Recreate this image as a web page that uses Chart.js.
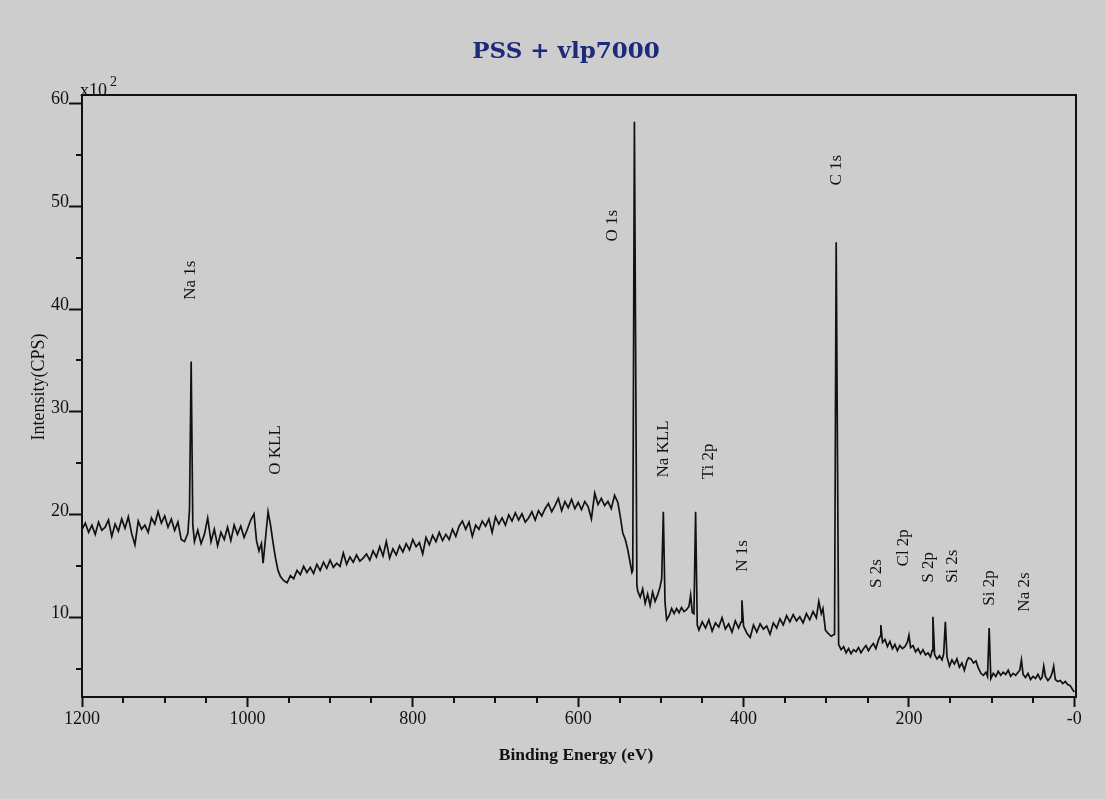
<!DOCTYPE html>
<html>
<head>
<meta charset="utf-8">
<script src="https://cdn.jsdelivr.net/npm/chart.js@4.4.1/dist/chart.umd.min.js"></script>
<style>
  html, body { margin: 0; padding: 0; background: #cdcdcd; }
  #wrap { width: 1105px; height: 799px; }
</style>
</head>
<body>
<div id="wrap"><canvas id="xps" width="1105" height="799"></canvas></div>
<script>
// survey spectrum, binding energy (eV) and intensity (x10^2 CPS)
var bindingEnergy = [
  1200, 1196, 1192, 1188, 1184, 1180, 1176, 1172, 1168, 1164, 1160, 1156, 1152, 1148, 1144, 1140,
  1136, 1132, 1128, 1124, 1120, 1116, 1112, 1108, 1104, 1100, 1096, 1092, 1088, 1084, 1080, 1076,
  1072, 1070, 1068, 1066, 1064, 1060, 1056, 1052, 1048, 1044, 1040, 1036, 1032, 1028, 1024, 1020,
  1016, 1012, 1008, 1004, 1000, 996, 992, 989, 986, 983, 981, 978, 975, 972, 969, 966,
  963, 960, 956, 952, 948, 944, 940, 936, 932, 928, 924, 920, 916, 912, 908, 904,
  900, 896, 892, 888, 884, 880, 876, 872, 868, 864, 860, 856, 852, 848, 844, 840,
  836, 832, 828, 824, 820, 816, 812, 808, 804, 800, 796, 792, 788, 784, 780, 776,
  772, 768, 764, 760, 756, 752, 748, 744, 740, 736, 732, 728, 724, 720, 716, 712,
  708, 704, 700, 696, 692, 688, 684, 680, 676, 672, 668, 664, 660, 656, 652, 648,
  644, 640, 636, 632, 628, 624, 620, 616, 612, 608, 604, 600, 596, 592, 588, 584,
  580, 576, 572, 568, 564, 560, 556, 552, 549, 546, 543, 540, 537, 535, 534, 532,
  529, 528, 525, 522, 519, 516, 513, 510, 507, 504, 501, 499, 497, 495, 493, 490,
  487, 484, 481, 478, 475, 472, 469, 466, 464, 462, 460, 458, 456, 454, 450, 446,
  442, 438, 434, 430, 426, 422, 418, 414, 410, 406, 403, 402, 400, 396, 392, 388,
  384, 380, 376, 372, 368, 364, 360, 356, 352, 348, 344, 340, 336, 332, 328, 324,
  320, 316, 312, 309, 306, 304, 301, 298, 294, 290, 288, 285, 282, 279, 276, 273,
  270, 267, 264, 261, 258, 255, 252, 249, 246, 243, 240, 237, 235, 234, 232, 229,
  226, 223, 220, 217, 214, 211, 208, 205, 202, 200, 198, 195, 192, 189, 186, 183,
  180, 177, 174, 172, 171, 169, 166, 163, 160, 158, 156, 154, 151, 148, 145, 142,
  139, 136, 133, 130, 128, 125, 122, 119, 116, 113, 110, 107, 105, 103, 101, 98,
  95, 92, 89, 86, 83, 80, 77, 74, 71, 68, 66, 64, 62, 59, 56, 53,
  50, 47, 44, 41, 39, 37, 35, 32, 29, 27, 25, 23, 20, 17, 14, 11,
  8, 5, 2, 0
];
var intensity = [
  18.6, 19.2, 18.3, 19.0, 18.1, 19.3, 18.5, 18.8, 19.5, 17.9, 19.1, 18.4, 19.6, 18.7, 19.8, 18.2,
  17.1, 19.4, 18.6, 19.0, 18.3, 19.7, 19.1, 20.3, 19.2, 19.9, 18.8, 19.6, 18.5, 19.3, 17.6, 17.4,
  18.2, 20.5, 34.9, 19.0, 17.4, 18.5, 17.2, 18.1, 19.7, 17.4, 18.6, 17.0, 18.3, 17.6, 18.8, 17.5,
  19.0, 18.1, 18.9, 17.8, 18.6, 19.5, 20.1, 17.5, 16.5, 17.2, 15.3, 17.8, 20.3, 19.0, 17.3, 15.8,
  14.6, 14.0, 13.6, 13.4, 14.1, 13.8, 14.6, 14.2, 15.0, 14.4, 14.9, 14.3, 15.2, 14.6, 15.4, 14.8,
  15.6, 14.9, 15.3, 15.0, 16.3, 15.2, 15.9, 15.4, 16.1, 15.5, 15.8, 16.2, 15.6, 16.5, 15.9, 16.9,
  16.0, 17.4, 15.8, 16.7, 16.1, 17.0, 16.4, 17.2, 16.6, 17.6, 16.9, 17.3, 16.2, 17.8, 17.1, 18.0,
  17.4, 18.3, 17.5, 18.1, 17.6, 18.6, 17.9, 18.9, 19.4, 18.6, 19.3, 17.9, 19.0, 18.6, 19.4, 18.9,
  19.6, 18.3, 19.8, 19.1, 19.7, 19.0, 20.0, 19.4, 20.2, 19.5, 20.1, 19.3, 19.7, 20.3, 19.5, 20.4,
  19.9, 20.6, 21.1, 20.3, 20.9, 21.6, 20.4, 21.3, 20.7, 21.5, 20.6, 21.2, 20.5, 21.3, 20.8, 19.6,
  22.1, 21.0, 21.6, 20.9, 21.3, 20.6, 21.9, 21.2, 19.8, 18.2, 17.6, 16.6, 15.3, 14.4, 14.6, 58.2,
  13.2, 12.6, 12.0, 12.8, 11.4, 12.3, 11.2, 12.5, 11.6, 12.2, 13.0, 13.8, 20.3, 11.5, 9.8, 10.2,
  10.9, 10.4, 10.9, 10.5, 11.0, 10.6, 10.8, 11.1, 12.2, 10.5, 10.4, 20.3, 9.3, 8.8, 9.6, 9.0,
  9.8, 8.7, 9.5, 9.1, 10.0, 8.9, 9.4, 8.6, 9.7, 9.0, 9.6, 11.7, 9.2, 8.5, 8.1, 9.3,
  8.6, 9.4, 8.9, 9.2, 8.4, 9.5, 9.0, 9.9, 9.3, 10.2, 9.6, 10.3, 9.7, 10.1, 9.5, 10.4,
  9.8, 10.6, 10.0, 11.6, 10.4, 10.9, 8.8, 8.5, 8.2, 8.4, 46.5, 7.4, 6.9, 7.2, 6.6, 7.0,
  6.5, 6.9, 6.7, 7.1, 6.6, 7.0, 7.3, 6.8, 7.2, 7.5, 7.0, 7.8, 8.2, 9.3, 7.6, 7.9,
  7.2, 7.7, 7.0, 7.4, 6.8, 7.3, 7.0, 7.2, 7.6, 8.3, 7.1, 7.3, 6.7, 7.0, 6.5, 6.9,
  6.4, 6.6, 6.2, 6.8, 10.1, 6.4, 6.0, 6.3, 5.9, 6.5, 9.6, 6.2, 5.3, 5.9, 5.5, 6.0,
  5.2, 5.6, 4.9, 5.8, 6.1, 6.0, 5.6, 5.8, 5.1, 4.6, 4.4, 4.7, 4.3, 9.0, 4.1, 4.6,
  4.3, 4.8, 4.4, 4.7, 4.5, 4.9, 4.3, 4.6, 4.4, 4.7, 4.9, 5.9, 4.5, 4.2, 4.6, 4.0,
  4.3, 4.1, 4.5, 4.0, 4.2, 5.3, 4.3, 3.9, 4.2, 4.6, 5.3, 4.0, 3.8, 3.9, 3.6, 3.8,
  3.5, 3.4, 3.0, 2.8
];

var xMajorTicks = [1200, 1000, 800, 600, 400, 200, 0];
var xMinorTicks = [1150, 1100, 1050, 950, 900, 850, 750, 700, 650, 550, 500, 450, 350, 300, 250, 150, 100, 50];
var yMajorTicks = [10, 20, 30, 40, 50, 60];
var yMinorTicks = [5, 15, 25, 35, 45, 55];

// peak annotations: name, energy and level of the label centre
var peakNames  = ['Na 1s', 'O KLL', 'O 1s', 'Na KLL', 'Ti 2p', 'N 1s', 'C 1s', 'S 2s', 'Cl 2p', 'S 2p', 'Si 2s', 'Si 2p', 'Na 2s'];
var peakEnergy = [1069, 966, 558, 497, 442, 401, 288, 239, 206, 176, 147, 103, 60];
var peakLevel  = [42.8, 26.3, 48.1, 26.4, 25.2, 16.0, 53.5, 14.3, 16.8, 14.9, 15.0, 12.9, 12.5];

var points = bindingEnergy.map(function (e, i) { return {x: e, y: intensity[i]}; });

var serif = '"Liberation Serif", "Times New Roman", serif';

// minor ticks, box frame and all free text
var decorations = {
  id: 'decorations',
  afterDraw: function (chart) {
    var ctx = chart.ctx;
    var area = chart.chartArea;
    var xs = chart.scales.x, ys = chart.scales.y;

    ctx.save();
    ctx.strokeStyle = '#111';
    ctx.lineWidth = 2;
    ctx.strokeRect(area.left, area.top, area.right - area.left, area.bottom - area.top);

    ctx.beginPath();
    xMinorTicks.forEach(function (v) {
      var px = Math.round(xs.getPixelForValue(v));
      ctx.moveTo(px, area.bottom);
      ctx.lineTo(px, area.bottom + 6);
    });
    yMinorTicks.forEach(function (v) {
      var py = Math.round(ys.getPixelForValue(v));
      ctx.moveTo(area.left, py);
      ctx.lineTo(area.left - 6, py);
    });
    ctx.stroke();

    ctx.fillStyle = '#111';
    // peak labels
    ctx.font = '17px ' + serif;
    ctx.textAlign = 'center';
    ctx.textBaseline = 'middle';
    peakNames.forEach(function (name, i) {
      ctx.save();
      ctx.translate(xs.getPixelForValue(peakEnergy[i]), ys.getPixelForValue(peakLevel[i]));
      ctx.rotate(-Math.PI / 2);
      ctx.fillText(name, 0, 0);
      ctx.restore();
    });

    // x10^2 multiplier
    ctx.textAlign = 'left';
    ctx.textBaseline = 'alphabetic';
    ctx.font = '18px ' + serif;
    ctx.fillText('x10', area.left - 2, area.top + 1);
    ctx.font = '14px ' + serif;
    ctx.fillText('2', area.left + 28, area.top - 9);

    // axis titles
    ctx.font = 'bold 17.5px ' + serif;
    ctx.textAlign = 'center';
    ctx.fillText('Binding Energy (eV)', 576, 760);
    ctx.save();
    ctx.font = '18px ' + serif;
    ctx.translate(44, 387);
    ctx.rotate(-Math.PI / 2);
    ctx.fillText('Intensity(CPS)', 0, 0);
    ctx.restore();

    // title
    ctx.font = 'bold 23px "DejaVu Serif", serif';
    ctx.fillStyle = '#1c2a7c';
    ctx.fillText('PSS + vlp7000', 566, 58);
    ctx.restore();
  }
};

new Chart(document.getElementById('xps'), {
  type: 'line',
  data: {
    datasets: [{
      data: points,
      borderColor: '#111',
      borderWidth: 1.7,
      pointRadius: 0,
      tension: 0,
      fill: false
    }]
  },
  options: {
    responsive: false,
    animation: false,
    parsing: false,
    layout: { padding: { top: 95, right: 29, left: 0, bottom: 0 } },
    plugins: { legend: { display: false }, tooltip: { enabled: false }, title: { display: false } },
    scales: {
      x: {
        type: 'linear',
        reverse: true,
        min: -2,
        max: 1200,
        afterBuildTicks: function (s) { s.ticks = xMajorTicks.map(function (v) { return {value: v}; }); },
        afterFit: function (s) { s.height = 102; },
        ticks: {
          autoSkip: false,
          maxRotation: 0,
          padding: 1,
          color: '#111',
          font: { family: serif, size: 18 },
          callback: function (v) { return v === 0 ? '-0' : String(v); }
        },
        grid: { drawOnChartArea: false, tickLength: 10, tickWidth: 2, tickColor: '#111' },
        border: { color: '#111', width: 2 }
      },
      y: {
        type: 'linear',
        min: 2.3,
        max: 60.8,
        afterBuildTicks: function (s) { s.ticks = yMajorTicks.map(function (v) { return {value: v}; }); },
        afterFit: function (s) { s.width = 82; },
        ticks: {
          padding: 0,
          labelOffset: -4,
          color: '#111',
          font: { family: serif, size: 18 }
        },
        grid: { drawOnChartArea: false, tickLength: 13, tickWidth: 2, tickColor: '#111' },
        border: { color: '#111', width: 2 }
      }
    }
  },
  plugins: [decorations]
});
</script>
</body>
</html>
